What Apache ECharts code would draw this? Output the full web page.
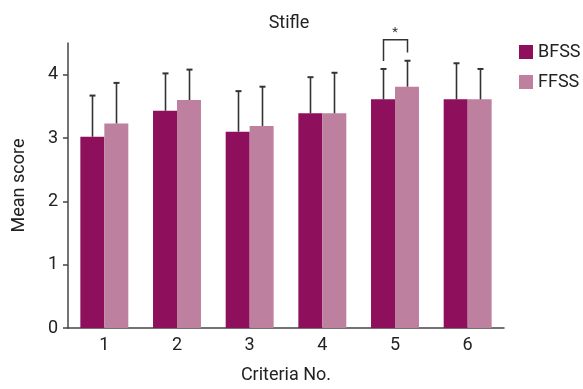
<!DOCTYPE html>
<html>
<head>
<meta charset="utf-8">
<script src="https://cdn.jsdelivr.net/npm/echarts@6/dist/echarts.min.js"></script>
<style>html,body{margin:0;padding:0;background:#fff}#c{width:583px;height:389px}</style>
</head>
<body>
<div id="c"></div>
<script>
const categories = ['1', '2', '3', '4', '5', '6'];
const bfssMean = [3.02, 3.43, 3.10, 3.39, 3.61, 3.61];
const ffssMean = [3.23, 3.60, 3.19, 3.39, 3.81, 3.61];
const bfssUpper = [3.67, 4.02, 3.74, 3.96, 4.09, 4.18];
const ffssUpper = [3.87, 4.08, 3.81, 4.03, 4.22, 4.09];
const yTicks = [0, 1, 2, 3, 4];
const sigCategory = [4];
const sigLabel = '*';

const FONT = 'Roboto';
const BAR_FRAC = 0.33;
const chart = echarts.init(document.getElementById('c'), null, {renderer: 'canvas'});

function errSeries(means, uppers, sign) {
  return {
    type: 'custom',
    silent: true,
    z: 3,
    data: means.map((m, i) => [i, m, uppers[i]]),
    encode: {x: 0, y: [1, 2]},
    renderItem: function (params, api) {
      const idx = api.value(0);
      const off = sign * api.size([1, 0])[0] * BAR_FRAC / 2;
      const p1 = api.coord([idx, api.value(1)]);
      const p2 = api.coord([idx, api.value(2)]);
      const x = Math.round(p1[0] + off) + 0.5;
      const st = {stroke: '#333', lineWidth: 1.6};
      return {
        type: 'group',
        children: [
          {type: 'line', shape: {x1: x, y1: p1[1], x2: x, y2: p2[1]}, style: st},
          {type: 'line', shape: {x1: x - 3, y1: p2[1], x2: x + 3, y2: p2[1]}, style: {stroke: '#333', lineWidth: 2}}
        ]
      };
    }
  };
}

const sigSeries = {
  type: 'custom',
  silent: true,
  clip: false,
  z: 4,
  data: sigCategory.map(i => [i, bfssUpper[i], ffssUpper[i]]),
  encode: {x: 0, y: [1, 2]},
  renderItem: function (params, api) {
    const idx = api.value(0);
    const half = api.size([1, 0])[0] * BAR_FRAC / 2;
    const u1 = api.value(1), u2 = api.value(2);
    const top = Math.max(u1, u2) + 0.33;
    const c = api.coord([idx, 0])[0];
    const xl = Math.round(c - half) + 0.5, xr = Math.round(c + half) + 0.5;
    const yl = api.coord([idx, u1 + 0.125])[1];
    const yr = api.coord([idx, u2 + 0.13])[1];
    const yt = api.coord([idx, top])[1];
    const st = {stroke: '#333', lineWidth: 1.5, fill: null};
    return {
      type: 'group',
      children: [
        {type: 'polyline', shape: {points: [[xl, yl], [xl, yt], [xr, yt], [xr, yr]]}, style: st},
        {type: 'text', style: {text: sigLabel, x: c, y: yt - 1, align: 'center', verticalAlign: 'bottom', fontSize: 13, fontFamily: FONT, fill: '#333'}}
      ]
    };
  }
};

chart.setOption({
  animation: false,
  backgroundColor: '#fff',
  title: {
    text: 'Stifle', left: 284, top: 9, textAlign: 'center',
    textStyle: {fontFamily: FONT, fontSize: 18, fontWeight: 'normal', color: '#222'}
  },
  legend: {
    data: ['BFSS', 'FFSS'], orient: 'vertical', left: 519, top: 43,
    itemWidth: 14, itemHeight: 14, itemGap: 12, icon: 'rect', padding: 0,
    textStyle: {fontFamily: FONT, fontSize: 18, color: '#222'},
    itemStyle: {borderWidth: 0}
  },
  grid: {left: 68, right: 79, top: 43, bottom: 57, containLabel: false},
  xAxis: {
    type: 'category', data: categories,
    name: 'Criteria No.', nameLocation: 'middle', nameGap: 38,
    nameTextStyle: {fontFamily: FONT, fontSize: 18, color: '#222'},
    axisLine: {lineStyle: {color: '#444', width: 1.5}},
    axisTick: {alignWithLabel: true, length: 6, lineStyle: {color: '#444', width: 1.5}},
    axisLabel: {fontFamily: FONT, fontSize: 18, color: '#222', margin: 8}
  },
  yAxis: {
    type: 'value', min: 0, max: 4.5, interval: 1,
    name: 'Mean score', nameLocation: 'middle', nameGap: 40, nameRotate: 90,
    nameTextStyle: {fontFamily: FONT, fontSize: 18, color: '#222'},
    splitLine: {show: false},
    axisLine: {show: true, lineStyle: {color: '#444', width: 1.5}},
    axisTick: {show: true, length: 5, customValues: yTicks, lineStyle: {color: '#444', width: 1.5}},
    axisLabel: {fontFamily: FONT, fontSize: 18, color: '#222', margin: 10, customValues: yTicks}
  },
  series: [
    {name: 'BFSS', type: 'bar', data: bfssMean, barWidth: (BAR_FRAC * 100) + '%', barGap: '0%', itemStyle: {color: '#8E0F5B'}},
    {name: 'FFSS', type: 'bar', data: ffssMean, barWidth: (BAR_FRAC * 100) + '%', barGap: '0%', itemStyle: {color: '#BD809E'}},
    errSeries(bfssMean, bfssUpper, -1),
    errSeries(ffssMean, ffssUpper, 1),
    sigSeries
  ]
});
</script>
</body>
</html>
